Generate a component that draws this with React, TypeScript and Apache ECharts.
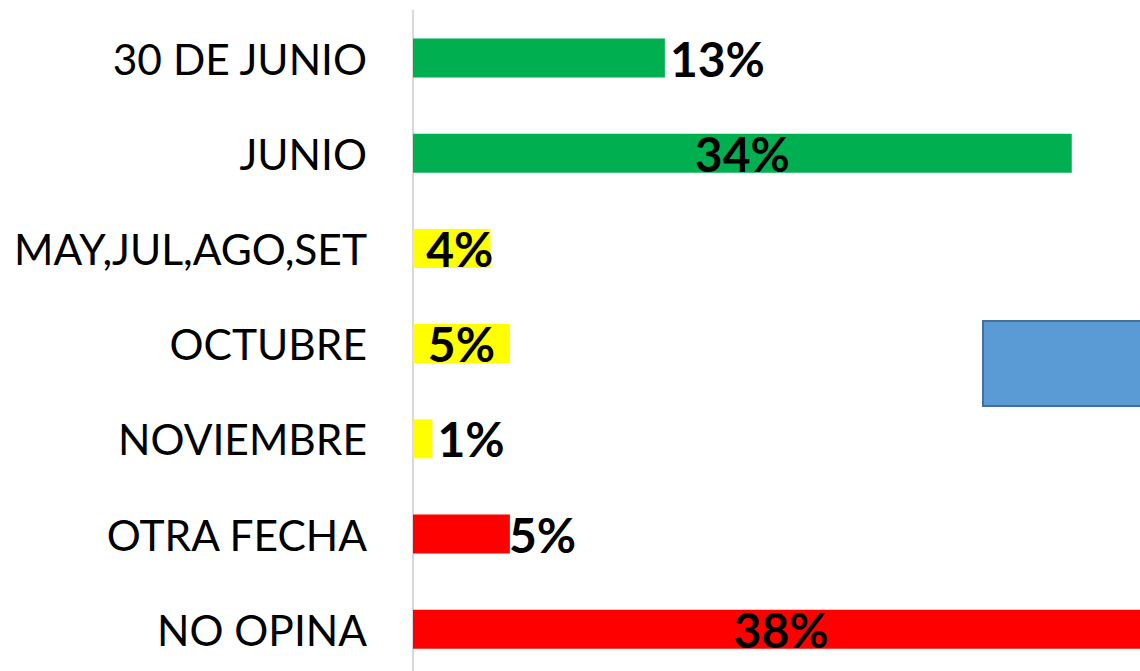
import React, { useEffect, useRef } from "react";
import * as echarts from "echarts";

const categories = ["30 DE JUNIO", "JUNIO", "MAY,JUL,AGO,SET", "OCTUBRE", "NOVIEMBRE", "OTRA FECHA", "NO OPINA"];
const values = [13, 34, 4, 5, 1, 5, 38];
const barColors = ["#00B050", "#00B050", "#FFFF00", "#FFFF00", "#FFFF00", "#FF0000", "#FF0000"];
const labelPositions = ["right", "inside", "inside", "inside", "right", "right", "inside"];
const labelOffsets = [[0, 0], [0, 0], [8, 0], [0, 0], [0, 0], [-6, 0], [0, 0]];

export default function App() {
  const ref = useRef<HTMLDivElement>(null);
  useEffect(() => {
    if (!ref.current) return;
    const chart = echarts.init(ref.current, null, { renderer: "svg" });
    const data = values.map((v, i) => ({
      value: v,
      itemStyle: { color: barColors[i] },
      label: {
        position: labelPositions[i] as any,
        offset: labelOffsets[i],
        distance: 5,
      },
    }));
    chart.setOption({
      animation: false,
      grid: {
        left: 413,
        top: 10.4,
        width: 775,
        height: 666.4,
        outerBoundsMode: "none",
        containLabel: false,
      },
      xAxis: {
        type: "value",
        min: 0,
        max: 40,
        show: false,
      },
      yAxis: {
        type: "category",
        data: categories,
        inverse: true,
        axisLine: { show: true, lineStyle: { color: "#D9D9D9", width: 2 } },
        axisTick: { show: false },
        axisLabel: {
          fontFamily: "Lato",
          fontSize: 42.5,
          color: "#000000",
          margin: 46,
        },
      },
      series: [
        {
          type: "bar",
          data,
          barWidth: 39,
          label: {
            show: true,
            formatter: "{c}%",
            fontFamily: "Lato",
            fontWeight: "bold",
            fontSize: 48,
            color: "#000000",
          },
        },
      ],
      graphic: [
        {
          type: "rect",
          shape: { x: 983, y: 321, width: 220, height: 85 },
          style: { fill: "#5B9BD5", stroke: "#41719C", lineWidth: 2 },
        },
      ],
    });
    return () => chart.dispose();
  }, []);
  return (
    <div
      ref={ref}
      style={{ position: "fixed", left: 0, top: 0, width: 1200, height: 690, background: "#fff" }}
    />
  );
}
